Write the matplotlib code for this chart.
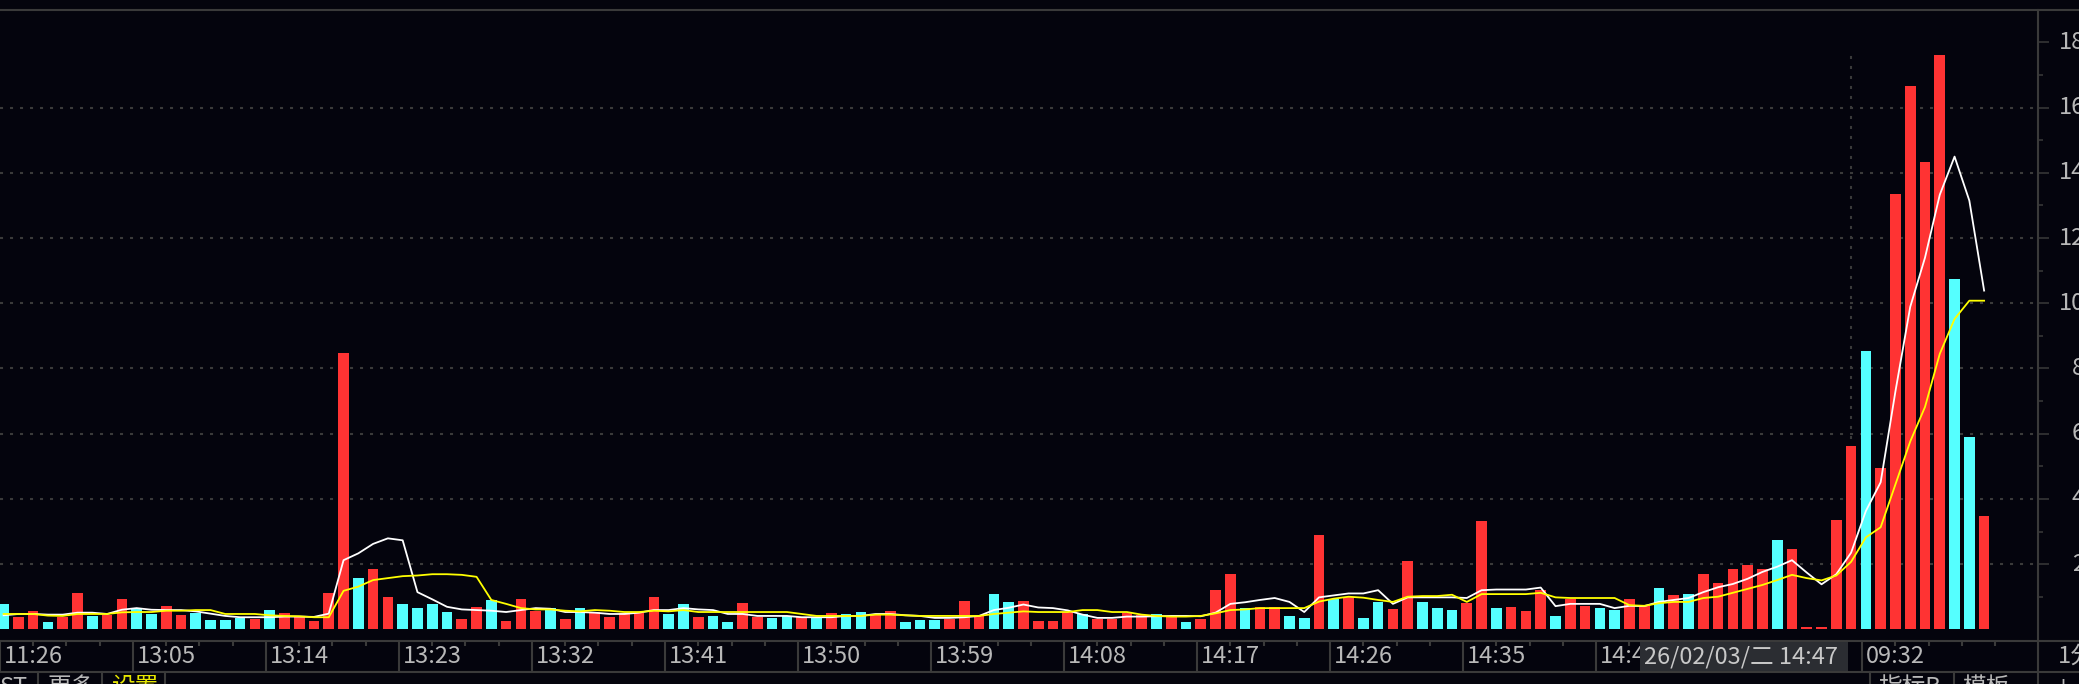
import matplotlib
matplotlib.use("Agg")
import matplotlib.pyplot as plt
from matplotlib import transforms
from matplotlib.lines import Line2D
from matplotlib.patches import Rectangle

# ---- data (one bar per minute) ----
volume = [0.78, 0.37, 0.55, 0.22, 0.37, 1.10, 0.41, 0.43, 0.92, 0.65,
          0.47, 0.73, 0.43, 0.51, 0.29, 0.29, 0.35, 0.31, 0.59, 0.49,
          0.39, 0.24, 1.10, 8.48, 1.57, 1.84, 0.98, 0.78, 0.65, 0.78,
          0.53, 0.31, 0.67, 0.90, 0.24, 0.92, 0.55, 0.65, 0.31, 0.65,
          0.53, 0.37, 0.49, 0.51, 0.98, 0.47, 0.78, 0.37, 0.41, 0.22,
          0.80, 0.37, 0.35, 0.41, 0.37, 0.35, 0.49, 0.47, 0.53, 0.43,
          0.55, 0.22, 0.29, 0.29, 0.31, 0.86, 0.41, 1.08, 0.84, 0.86,
          0.24, 0.24, 0.53, 0.47, 0.31, 0.31, 0.49, 0.43, 0.47, 0.39,
          0.22, 0.31, 1.22, 1.71, 0.65, 0.67, 0.67, 0.41, 0.35, 2.88,
          0.94, 1.00, 0.35, 0.84, 0.61, 2.08, 0.84, 0.65, 0.59, 0.80,
          3.31, 0.65, 0.67, 0.55, 1.22, 0.41, 0.92, 0.73, 0.65, 0.59,
          0.92, 0.73, 1.27, 1.04, 1.08, 1.71, 1.41, 1.84, 1.96, 1.84,
          2.73, 2.45, 0.06, 0.06, 3.36, 5.63, 8.55, 4.95, 13.35, 16.67,
          14.34, 17.63, 10.75, 5.91, 3.47]

# 1 = up minute (red), 0 = down minute (cyan)
up = [0, 1, 1, 0, 1, 1, 0, 1, 1, 0,
      0, 1, 1, 0, 0, 0, 0, 1, 0, 1,
      1, 1, 1, 1, 0, 1, 1, 0, 0, 0,
      0, 1, 1, 0, 1, 1, 1, 0, 1, 0,
      1, 1, 1, 1, 1, 0, 0, 1, 0, 0,
      1, 1, 0, 0, 1, 0, 1, 0, 0, 1,
      1, 0, 0, 0, 1, 1, 1, 0, 0, 1,
      1, 1, 1, 0, 1, 1, 1, 1, 0, 1,
      0, 1, 1, 1, 0, 1, 1, 0, 0, 1,
      0, 1, 0, 0, 1, 1, 0, 0, 0, 1,
      1, 0, 1, 1, 1, 0, 1, 1, 0, 0,
      1, 1, 0, 1, 0, 1, 1, 1, 1, 1,
      0, 1, 1, 1, 1, 1, 0, 1, 1, 1,
      1, 1, 0, 0, 1]

ma5 = [0.43, 0.47, 0.47, 0.45, 0.45, 0.51, 0.51, 0.47, 0.60, 0.65,
       0.60, 0.59, 0.59, 0.55, 0.48, 0.41, 0.37, 0.37, 0.37, 0.39,
       0.39, 0.38, 0.48, 2.12, 2.33, 2.62, 2.79, 2.73, 1.14, 0.92,
       0.69, 0.61, 0.59, 0.57, 0.53, 0.59, 0.65, 0.63, 0.53, 0.53,
       0.51, 0.47, 0.47, 0.51, 0.59, 0.59, 0.65, 0.61, 0.59, 0.47,
       0.47, 0.41, 0.41, 0.41, 0.37, 0.37, 0.37, 0.41, 0.41, 0.47,
       0.47, 0.43, 0.41, 0.35, 0.35, 0.37, 0.41, 0.59, 0.66, 0.76,
       0.67, 0.65, 0.58, 0.45, 0.35, 0.35, 0.39, 0.39, 0.40, 0.41,
       0.41, 0.40, 0.51, 0.78, 0.83, 0.90, 0.96, 0.84, 0.53, 0.98,
       1.04, 1.10, 1.10, 1.20, 0.78, 0.98, 0.98, 0.98, 0.98, 0.96,
       1.20, 1.22, 1.22, 1.22, 1.28, 0.71, 0.78, 0.78, 0.78, 0.65,
       0.72, 0.71, 0.84, 0.90, 0.96, 1.14, 1.29, 1.39, 1.55, 1.76,
       1.92, 2.12, 1.74, 1.38, 1.69, 2.35, 3.63, 4.51, 7.30, 9.89,
       11.40, 13.33, 14.50, 13.15, 10.39]

ma10 = [0.47, 0.47, 0.47, 0.42, 0.41, 0.47, 0.47, 0.47, 0.52, 0.53,
        0.53, 0.57, 0.57, 0.59, 0.59, 0.47, 0.47, 0.47, 0.43, 0.41,
        0.40, 0.37, 0.37, 1.18, 1.31, 1.51, 1.57, 1.63, 1.65, 1.69,
        1.69, 1.67, 1.61, 0.90, 0.78, 0.65, 0.61, 0.61, 0.57, 0.55,
        0.59, 0.57, 0.53, 0.53, 0.57, 0.55, 0.59, 0.53, 0.53, 0.53,
        0.53, 0.53, 0.53, 0.53, 0.47, 0.41, 0.41, 0.41, 0.41, 0.45,
        0.45, 0.43, 0.41, 0.41, 0.41, 0.41, 0.41, 0.47, 0.51, 0.55,
        0.53, 0.53, 0.53, 0.59, 0.59, 0.53, 0.53, 0.45, 0.41, 0.39,
        0.39, 0.41, 0.49, 0.59, 0.61, 0.65, 0.65, 0.65, 0.65, 0.85,
        0.94, 1.00, 0.97, 0.90, 0.84, 1.00, 1.02, 1.02, 1.06, 0.84,
        1.08, 1.08, 1.08, 1.08, 1.12, 0.98, 0.96, 0.96, 0.96, 0.96,
        0.74, 0.72, 0.80, 0.84, 0.84, 0.96, 1.00, 1.12, 1.24, 1.36,
        1.51, 1.67, 1.57, 1.50, 1.65, 2.07, 2.82, 3.13, 4.45, 5.76,
        6.82, 8.45, 9.52, 10.08, 10.08]

time_labels = ["11:26", "13:05", "13:14", "13:23", "13:32", "13:41", "13:50",
               "13:59", "14:08", "14:17", "14:26", "14:35", "14:44", "09:32"]
time_label_idx = [0, 9, 18, 27, 36, 45, 54, 63, 72, 81, 90, 99, 108, 126]
day_start_idx = 125          # first bar of the new session
cursor_idx = 111             # bar under the crosshair
cursor_text = "26/02/03/二 14:47"
y_ticks = [2, 4, 6, 8, 10, 12, 14, 16, 18]
y_tick_labels = ["2", "4", "6", "8", "10", "12", "14", "16", "18"]
y_minor = [1, 3, 5, 7, 9, 11, 13, 15, 17]

# ---- style ----
plt.rcParams["font.family"] = ["Noto Sans CJK SC", "DejaVu Sans"]
plt.rcParams["lines.scale_dashes"] = False

W, H = 2079, 684
BG = "#04040d"
LINE = "#3a3a3a"
TXT = "#b8b8b8"
RED = "#ff3333"
CYAN = "#55ffff"
FS = 17
DOTS = (0, (2.2, 5.0))


def fx(px):
    return px / W


def fy(py):
    return 1 - py / H


fig = plt.figure(figsize=(W / 100, H / 100), dpi=100, facecolor=BG)

# main volume panel
ax = fig.add_axes([0, fy(640), fx(2038), (640 - 10) / H])
ax.set_facecolor(BG)
pitch, x0 = 14.78, 3.6
ax.set_xlim(-x0 / pitch, (2038 - x0) / pitch)
ax.set_ylim((629.3 - 640) / 32.6, (629.3 - 10) / 32.6)

x = list(range(len(volume)))
for v in y_ticks[:-1]:
    ax.axhline(v, color=LINE, lw=1.5, linestyle=DOTS, zorder=1)
ax.vlines(day_start_idx, 0, 17.8, color=LINE, lw=1.5, linestyle=DOTS, zorder=1)

ax.bar(x, volume, width=0.72, color=[RED if u else CYAN for u in up],
       linewidth=0, zorder=2)
ax.plot(x, ma5, color="white", lw=1.3, zorder=3)
ax.plot(x, ma10, color="#ffff00", lw=1.3, zorder=4)

for s in ax.spines.values():
    s.set_visible(False)
ax.tick_params(axis="x", bottom=False, labelbottom=False)
ax.yaxis.tick_right()
ax.set_yticks(y_ticks)
ax.set_yticks(y_minor, minor=True)
ax.tick_params(axis="y", which="major", right=True, left=False, direction="out",
               length=8, width=1.1, color=LINE, labelright=False, labelleft=False)
ax.tick_params(axis="y", which="minor", right=True, left=False, direction="out",
               length=3.6, width=1.1, color=LINE)

trans = transforms.blended_transform_factory(fig.transFigure, ax.transData)
for v, lab in zip(y_ticks, y_tick_labels):
    ax.text(fx(2085), v, lab, transform=trans, ha="right", va="center",
            color=TXT, fontsize=FS, clip_on=False)

# time axis strip
ax_s = fig.add_axes([0, fy(672), fx(2038), 32 / H])
ax_s.set_xlim(ax.get_xlim())
ax_s.set_ylim(0, 1)
ax_s.axis("off")
seps = [i - 0.25 for i in time_label_idx]
for s, lab in zip(seps, time_labels):
    ax_s.vlines(s, 0, 1, color=LINE, lw=1.5)
    ax_s.text(s + 0.27, 0.47, lab, ha="left", va="center", color=TXT, fontsize=FS)
tick_pos = []
for s in seps[:-2]:
    tick_pos += [s + 2.25 * k for k in (1, 2, 3)]
tick_pos += [seps[-2] + 9 + 2.25 * k for k in (-3, -2, -1)]
tick_pos += [seps[-1] + 2.25 * k for k in (1, 2, 3, 4)]
ax_s.vlines(tick_pos, 1 - 6 / 32, 1, color=LINE, lw=1.5)

cx = cursor_idx - 0.25
ax_s.add_patch(Rectangle((cx, 0.03), 14.05, 0.97, facecolor="#2b2d32",
                         edgecolor="none", zorder=5))
ax_s.text(cx + 0.22, 0.47, cursor_text, ha="left", va="center", color="#c8c8c8",
          fontsize=FS, zorder=6)

# frame lines
for yy in (10, 640.5, 672):
    fig.add_artist(Line2D([0, 1], [fy(yy), fy(yy)], transform=fig.transFigure,
                          color=LINE, lw=1.5))
fig.add_artist(Line2D([fx(2038), fx(2038)], [0, fy(10)], transform=fig.transFigure,
                      color=LINE, lw=1.5))
fig.text(fx(2058), fy(656), "1分钟", ha="left", va="center", color=TXT, fontsize=FS)

# bottom tab bar (mostly cut off)
for xx in (38, 102, 165, 1870, 1954):
    fig.add_artist(Line2D([fx(xx), fx(xx)], [0, fy(672)], transform=fig.transFigure,
                          color=LINE, lw=1.5))
tabs = [(28, "ST", "right", TXT), (48, "更多", "left", TXT),
        (112, "设置", "left", "#e6e600"), (1878, "指标B", "left", TXT),
        (1962, "模板", "left", TXT), (2056, "+", "left", TXT)]
for xx, lab, ha, col in tabs:
    fig.text(fx(xx), fy(676), lab, ha=ha, va="top", color=col, fontsize=FS)

fig.savefig("out.png", dpi=100, facecolor=BG)
